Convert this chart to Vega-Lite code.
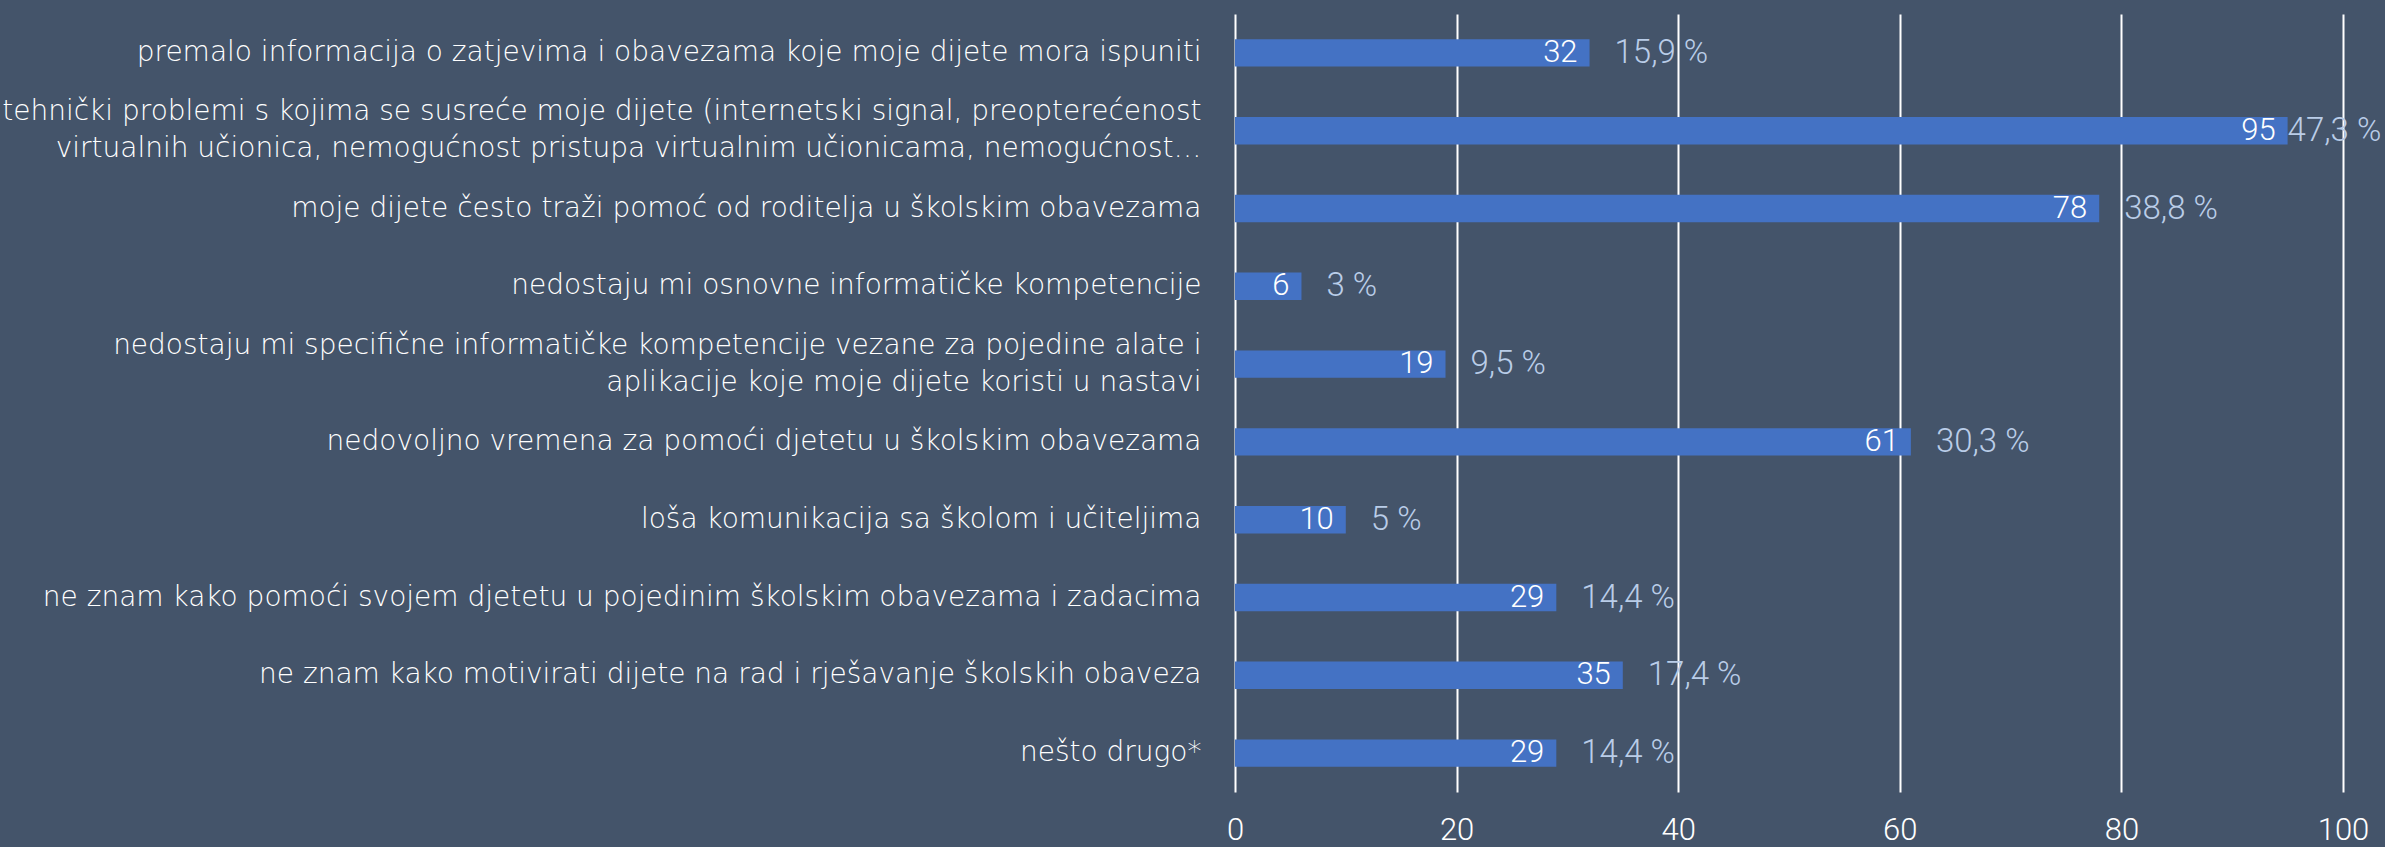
{
  "$schema": "https://vega.github.io/schema/vega-lite/v6.json",
  "autosize": {"type": "none"},
  "width": 1108,
  "height": 778,
  "padding": {"left": 1235, "top": 14, "right": 42, "bottom": 55},
  "background": "#44546A",
  "config": {
    "view": {"stroke": null},
    "font": "DejaVu Sans"
  },
  "data": {
    "values": [
      {"razlog": "premalo informacija o zatjevima i obavezama koje moje dijete mora ispuniti", "broj": 32, "postotak": "15,9 %"},
      {"razlog": "tehnički problemi s kojima se susreće moje dijete (internetski signal, preopterećenost|virtualnih učionica, nemogućnost pristupa virtualnim učionicama, nemogućnost…", "broj": 95, "postotak": "47,3 %"},
      {"razlog": "moje dijete često traži pomoć od roditelja u školskim obavezama", "broj": 78, "postotak": "38,8 %"},
      {"razlog": "nedostaju mi osnovne informatičke kompetencije", "broj": 6, "postotak": "3 %"},
      {"razlog": "nedostaju mi specifične informatičke kompetencije vezane za pojedine alate i|aplikacije koje moje dijete koristi u nastavi", "broj": 19, "postotak": "9,5 %"},
      {"razlog": "nedovoljno vremena za pomoći djetetu u školskim obavezama", "broj": 61, "postotak": "30,3 %"},
      {"razlog": "loša komunikacija sa školom i učiteljima", "broj": 10, "postotak": "5 %"},
      {"razlog": "ne znam kako pomoći svojem djetetu u pojedinim školskim obavezama i zadacima", "broj": 29, "postotak": "14,4 %"},
      {"razlog": "ne znam kako motivirati dijete na rad i rješavanje školskih obaveza", "broj": 35, "postotak": "17,4 %"},
      {"razlog": "nešto drugo*", "broj": 29, "postotak": "14,4 %"}
    ]
  },
  "encoding": {
    "y": {
      "field": "razlog",
      "type": "nominal",
      "sort": null,
      "scale": {"paddingInner": 0.648, "paddingOuter": 0.324},
      "axis": {
        "title": null,
        "domain": false,
        "ticks": false,
        "labelExpr": "split(datum.label, '|')",
        "labelColor": "#FFFFFF",
        "labelFont": "DejaVu Sans",
        "labelFontWeight": 200,
        "labelFontSize": 28,
        "labelLineHeight": 37,
        "labelPadding": 34,
        "labelLimit": 1300,
        "labelOffset": {"condition": {"test": "indexof(datum.value, '|') >= 0", "value": -18.5}, "value": 0}
      }
    },
    "x": {
      "field": "broj",
      "type": "quantitative",
      "scale": {"domain": [0, 100], "nice": false},
      "axis": {
        "title": null,
        "values": [0, 20, 40, 60, 80, 100],
        "domain": false,
        "ticks": false,
        "grid": true,
        "gridColor": "#FFFFFF",
        "gridWidth": 2,
        "gridOpacity": 1,
        "labelColor": "#FFFFFF",
        "labelFont": "Roboto",
        "labelFontWeight": 300,
        "labelFontSize": 31,
        "labelBaseline": "middle",
        "labelPadding": 38,
        "labelFlush": false
      }
    }
  },
  "layer": [
    {"mark": {"type": "bar", "color": "#4472C4"}},
    {
      "mark": {"type": "text", "align": "right", "baseline": "middle", "dx": -12, "color": "#FFFFFF", "fontSize": 31, "fontWeight": 300, "font": "Roboto"},
      "encoding": {"text": {"field": "broj", "type": "quantitative"}}
    },
    {
      "mark": {"type": "text", "align": "left", "baseline": "middle", "dx": {"expr": "datum.broj > 90 ? 0 : 25"}, "color": "#BACDE8", "fontSize": 33, "fontWeight": 300, "font": "Roboto"},
      "encoding": {
        "text": {"field": "postotak", "type": "nominal"}
      }
    }
  ]
}
